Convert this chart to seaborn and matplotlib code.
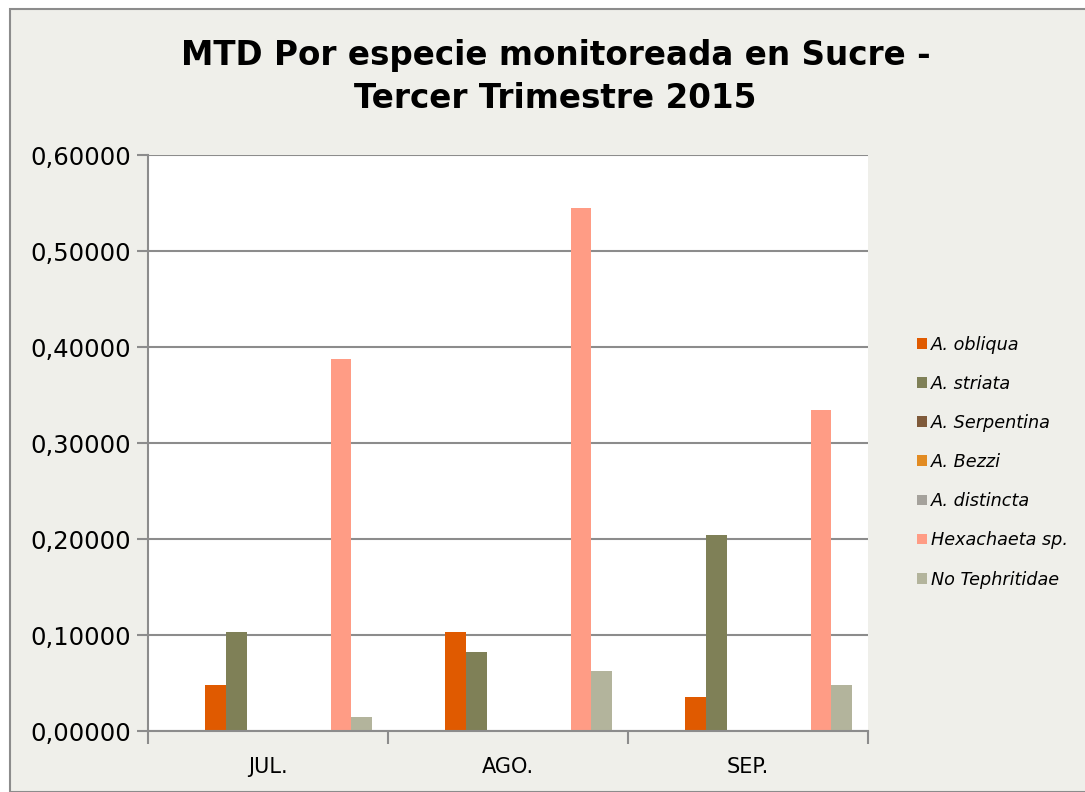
import matplotlib.pyplot as plt
import matplotlib.patches as mpatches
from matplotlib.ticker import FuncFormatter
import pandas as pd
import seaborn as sns

sns.set_style("white")
plt.rcParams["font.family"] = ["DejaVu Sans"]
plt.rcParams["text.color"] = "black"
plt.rcParams["xtick.color"] = "black"
plt.rcParams["ytick.color"] = "black"

months = ["JUL.", "AGO.", "SEP."]

# Excel chart has 10 series slots; three are empty and not in the legend
series = [
    "_s1", "_s2",
    "A. obliqua", "A. striata", "A. Serpentina", "A. Bezzi", "A. distincta",
    "_s3",
    "Hexachaeta sp.", "No Tephritidae",
]
values = {
    "_s1": [0, 0, 0],
    "_s2": [0, 0, 0],
    "A. obliqua": [0.048, 0.103, 0.035],
    "A. striata": [0.103, 0.082, 0.204],
    "A. Serpentina": [0, 0, 0],
    "A. Bezzi": [0, 0, 0],
    "A. distincta": [0, 0, 0],
    "_s3": [0, 0, 0],
    "Hexachaeta sp.": [0.388, 0.545, 0.334],
    "No Tephritidae": [0.0145, 0.0625, 0.048],
}
colors = {
    "_s1": "#ffffff",
    "_s2": "#ffffff",
    "A. obliqua": "#E05A00",
    "A. striata": "#7F8057",
    "A. Serpentina": "#7F5A3A",
    "A. Bezzi": "#E28B22",
    "A. distincta": "#A5A29C",
    "_s3": "#ffffff",
    "Hexachaeta sp.": "#FF9C85",
    "No Tephritidae": "#B3B49C",
}

rows = []
for name in series:
    for month, v in zip(months, values[name]):
        rows.append({"mes": month, "especie": name, "mtd": v})
df = pd.DataFrame(rows)

fig = plt.figure(figsize=(10.85, 7.92), dpi=100)
fig.patch.set_facecolor("white")
fig.patches.append(mpatches.Rectangle(
    (10 / 1085, 0), 1.0, 1 - 9 / 792, transform=fig.transFigure,
    facecolor="#EFEFEA", edgecolor="#8C8C8C", linewidth=1.5, zorder=-10))

ax = fig.add_axes([148 / 1085, 61 / 792, 720 / 1085, 576 / 792])
ax.set_facecolor("white")

sns.barplot(data=df, x="mes", y="mtd", hue="especie", hue_order=series,
            order=months, palette=colors, saturation=1, width=0.8696,
            linewidth=0, ax=ax, legend=True)

ax.set_ylim(0, 0.6)
ax.set_xlim(-0.5, 2.5)
ax.set_yticks([0, 0.1, 0.2, 0.3, 0.4, 0.5, 0.6])
ax.yaxis.set_major_formatter(FuncFormatter(lambda v, p: f"{v:.5f}".replace(".", ",")))
ax.grid(axis="y", color="#8C8C8C", linewidth=1.5)
ax.set_axisbelow(True)
for side in ["top", "right"]:
    ax.spines[side].set_visible(False)
for side in ["left", "bottom"]:
    ax.spines[side].set_color("#8C8C8C")
    ax.spines[side].set_linewidth(1.5)

ax.set_xlabel("")
ax.set_ylabel("")
ax.tick_params(axis="y", left=True, length=8, width=1.5, color="#8C8C8C",
               labelsize=17.5, pad=4)
ax.tick_params(axis="x", which="major", bottom=False, labelsize=15, pad=15)
ax.set_xticks([-0.5, 0.5, 1.5, 2.5], minor=True)
ax.tick_params(axis="x", which="minor", bottom=True, length=9, width=1.5,
               color="#8C8C8C")

handles, labels = ax.get_legend_handles_labels()
keep = [(h, l) for h, l in zip(handles, labels) if not l.startswith("_s")]
ax.legend([h for h, _ in keep], [l for _, l in keep],
          loc="center left", bbox_to_anchor=(901 / 1085, 1 - 462 / 792),
          bbox_transform=fig.transFigure, frameon=False,
          prop={"style": "italic", "size": 12.7}, labelspacing=1.2,
          handlelength=0.55, handleheight=0.55, handletextpad=0.25)

fig.text(0.512, 1 - 77 / 792, "MTD Por especie monitoreada en Sucre -\nTercer Trimestre 2015",
         ha="center", va="center", fontsize=23.5, fontweight="bold", linespacing=1.4)

fig.savefig("out.png", dpi=100)
